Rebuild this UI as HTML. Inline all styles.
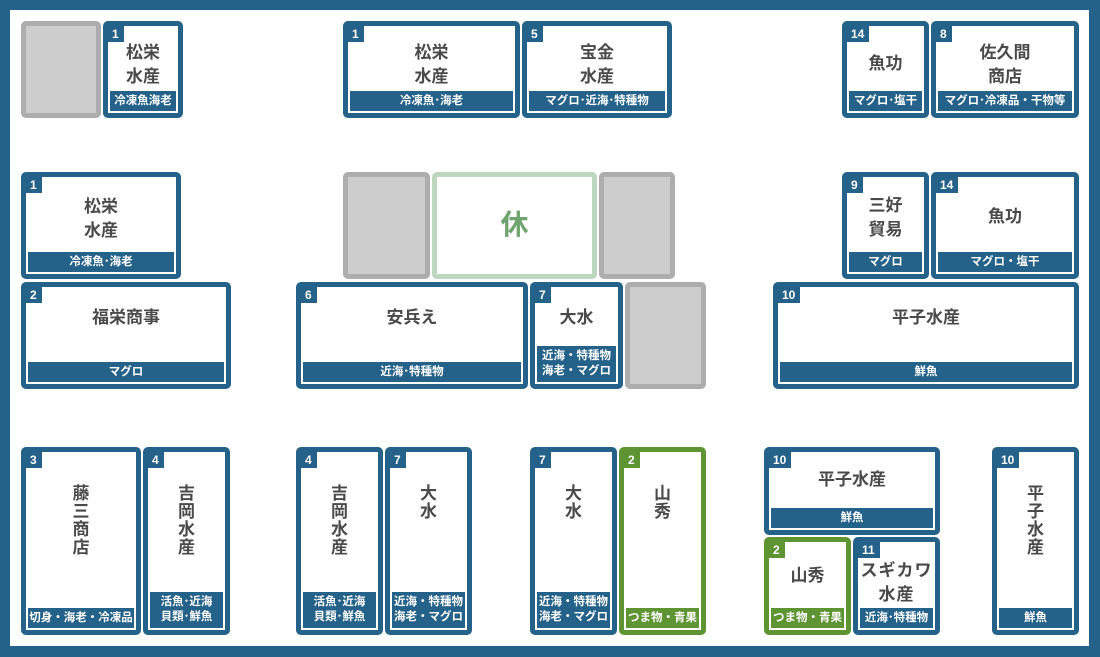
<!DOCTYPE html>
<html><head><meta charset="utf-8"><style>
body{margin:0;width:1100px;height:657px;overflow:hidden;background:#fff}
#f{position:absolute;left:0;top:0;width:1100px;height:657px;box-sizing:border-box;border:10px solid #24628a;border-right-width:11px;border-bottom-width:11px}
.c,.g,.h{position:absolute;box-sizing:border-box;border:5px solid #24628a;border-radius:5px;background:#fff;font-family:"Liberation Sans","Noto Sans CJK JP",sans-serif}
.gr{border-color:#5e9431}
.gr .n,.gr .l{background:#5e9431}
.g{border-color:#adadad;background:#cdcdcd}
.h{border-color:#bcd7bd}
.n{position:absolute;left:0;top:0;background:#24628a;color:#fff;font-size:12px;font-weight:bold;height:16px;line-height:16px;padding:0 5px 0 4px}
.l{position:absolute;left:2px;right:2px;bottom:2px;background:#24628a;color:#fff;font-size:11.5px;font-weight:bold;text-align:center;line-height:20px;white-space:nowrap;overflow:hidden}
.l2{line-height:15px;padding:3px 0}
.t{position:absolute;left:0;right:0;text-align:center;font-size:17px;font-weight:bold;color:#4a4a4a;line-height:24px;white-space:nowrap}
.v{line-height:18px}
</style></head><body>
<div id="f"></div>

<div class="g" style="left:21px;top:21px;width:80px;height:97px"></div>
<div class="c" style="left:103px;top:21px;width:80px;height:97px"><div class="n">1</div><div class="t" style="top:15px">松栄<br>水産</div><div class="l">冷凍魚海老</div></div>
<div class="c" style="left:343px;top:21px;width:177px;height:97px"><div class="n">1</div><div class="t" style="top:15px">松栄<br>水産</div><div class="l">冷凍魚･海老</div></div>
<div class="c" style="left:522px;top:21px;width:150px;height:97px"><div class="n">5</div><div class="t" style="top:15px">宝金<br>水産</div><div class="l">マグロ･近海･特種物</div></div>
<div class="c" style="left:842px;top:21px;width:87px;height:97px"><div class="n">14</div><div class="t" style="top:26px">魚功</div><div class="l">マグロ･塩干</div></div>
<div class="c" style="left:931px;top:21px;width:148px;height:97px"><div class="n">8</div><div class="t" style="top:15px">佐久間<br>商店</div><div class="l">マグロ･冷凍品・干物等</div></div>

<div class="c" style="left:21px;top:172px;width:160px;height:107px"><div class="n">1</div><div class="t" style="top:18px">松栄<br>水産</div><div class="l">冷凍魚･海老</div></div>
<div class="g" style="left:343px;top:172px;width:87px;height:107px"></div>
<div class="h" style="left:432px;top:172px;width:165px;height:107px"><div class="t" style="top:32px;font-size:28px;line-height:32px;color:#6fa46e">休</div></div>
<div class="g" style="left:599px;top:172px;width:76px;height:107px"></div>
<div class="c" style="left:842px;top:172px;width:87px;height:107px"><div class="n">9</div><div class="t" style="top:17px">三好<br>貿易</div><div class="l">マグロ</div></div>
<div class="c" style="left:931px;top:172px;width:148px;height:107px"><div class="n">14</div><div class="t" style="top:28px">魚功</div><div class="l">マグロ・塩干</div></div>

<div class="c" style="left:21px;top:282px;width:210px;height:107px"><div class="n">2</div><div class="t" style="top:19px">福栄商事</div><div class="l">マグロ</div></div>
<div class="c" style="left:296px;top:282px;width:232px;height:107px"><div class="n">6</div><div class="t" style="top:19px">安兵え</div><div class="l">近海･特種物</div></div>
<div class="c" style="left:530px;top:282px;width:93px;height:107px"><div class="n">7</div><div class="t" style="top:19px">大水</div><div class="l l2">近海・特種物<br>海老・マグロ</div></div>
<div class="g" style="left:625px;top:282px;width:81px;height:107px"></div>
<div class="c" style="left:773px;top:282px;width:306px;height:107px"><div class="n">10</div><div class="t" style="top:19px">平子水産</div><div class="l">鮮魚</div></div>

<div class="c" style="left:21px;top:447px;width:120px;height:188px"><div class="n">3</div><div class="t v" style="top:33px">藤<br>三<br>商<br>店</div><div class="l">切身・海老・冷凍品</div></div>
<div class="c" style="left:143px;top:447px;width:87px;height:188px"><div class="n">4</div><div class="t v" style="top:33px">吉<br>岡<br>水<br>産</div><div class="l l2">活魚･近海<br>貝類･鮮魚</div></div>
<div class="c" style="left:296px;top:447px;width:87px;height:188px"><div class="n">4</div><div class="t v" style="top:33px">吉<br>岡<br>水<br>産</div><div class="l l2">活魚･近海<br>貝類･鮮魚</div></div>
<div class="c" style="left:385px;top:447px;width:87px;height:188px"><div class="n">7</div><div class="t v" style="top:33px">大<br>水</div><div class="l l2">近海・特種物<br>海老・マグロ</div></div>
<div class="c" style="left:530px;top:447px;width:87px;height:188px"><div class="n">7</div><div class="t v" style="top:33px">大<br>水</div><div class="l l2">近海・特種物<br>海老・マグロ</div></div>
<div class="c gr" style="left:619px;top:447px;width:87px;height:188px"><div class="n">2</div><div class="t v" style="top:33px">山<br>秀</div><div class="l">つま物・青果</div></div>
<div class="c" style="left:764px;top:447px;width:176px;height:88px"><div class="n">10</div><div class="t" style="top:16px">平子水産</div><div class="l">鮮魚</div></div>
<div class="c gr" style="left:764px;top:537px;width:87px;height:98px"><div class="n">2</div><div class="t" style="top:22px">山秀</div><div class="l">つま物・青果</div></div>
<div class="c" style="left:853px;top:537px;width:87px;height:98px"><div class="n">11</div><div class="t" style="top:17px;letter-spacing:1px">スギカワ<br>水産</div><div class="l">近海･特種物</div></div>
<div class="c" style="left:992px;top:447px;width:87px;height:188px"><div class="n">10</div><div class="t v" style="top:33px">平<br>子<br>水<br>産</div><div class="l">鮮魚</div></div>
</body></html>
